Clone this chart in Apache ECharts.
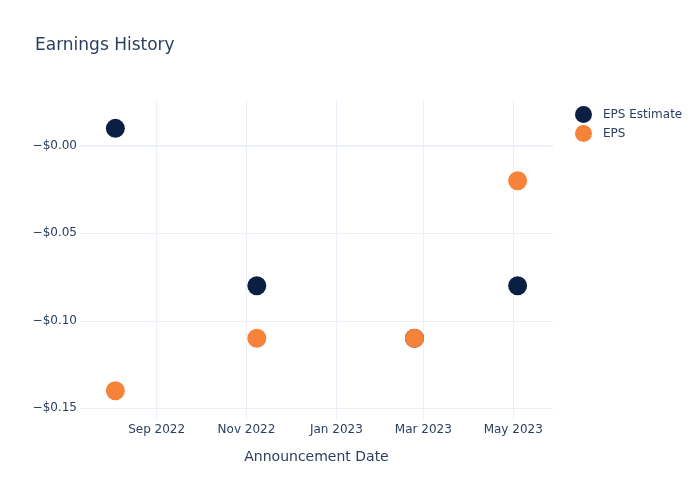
<!DOCTYPE html>
<html><head><meta charset="utf-8">
<script src="https://cdn.jsdelivr.net/npm/echarts@6/dist/echarts.min.js"></script>
<style>html,body{margin:0;padding:0;background:#fff}#c{width:700px;height:500px}</style>
</head><body><div id="c"></div>
<script>
const dates = ['2022-08-04', '2022-11-08', '2023-02-23', '2023-05-04'];
const epsEstimate = [0.01, -0.08, -0.11, -0.08];
const eps = [-0.14, -0.11, -0.11, -0.02];
const yTicks = [-0.15, -0.10, -0.05, 0];
const xTicks = ['2022-09-01', '2022-11-01', '2023-01-01', '2023-03-01', '2023-05-01'];
const months = ['Jan','Feb','Mar','Apr','May','Jun','Jul','Aug','Sep','Oct','Nov','Dec'];

const t = s => { const [y,m,d] = s.split('-').map(Number); return Date.UTC(y, m-1, d); };
const font = '"DejaVu Sans", Verdana, sans-serif';
const txt = '#2a3f5f';

const chart = echarts.init(document.getElementById('c'), null, {renderer: 'canvas'});
chart.setOption({
  animation: false,
  backgroundColor: '#fff',
  title: {text: 'Earnings History', left: 30, top: 32, textStyle: {fontFamily: font, fontSize: 17, fontWeight: 'normal', color: txt}},
  legend: {
    orient: 'vertical', left: 570, top: 101, itemWidth: 17, itemHeight: 17, itemGap: 2, icon: 'circle',
    textStyle: {fontFamily: font, fontSize: 12, color: txt, padding: [0, 0, 0, 6]}
  },
  grid: {left: 80, right: 147, top: 100, bottom: 80, containLabel: false},
  xAxis: {
    type: 'value', min: t('2022-07-11'), max: t('2023-05-28'), scale: true,
    name: 'Announcement Date', nameLocation: 'middle', nameGap: 30,
    nameTextStyle: {fontFamily: font, fontSize: 14, color: txt},
    axisLine: {show: false}, axisTick: {show: false, customValues: xTicks.map(t)},
    axisLabel: {customValues: xTicks.map(t), fontFamily: font, fontSize: 12, color: txt, margin: 4,
      formatter: v => { const d = new Date(v); return months[d.getUTCMonth()] + ' ' + d.getUTCFullYear(); }},
    splitLine: {show: true, lineStyle: {color: '#EBF0F8', width: 1}}
  },
  yAxis: {
    type: 'value', min: -0.1567, max: 0.0262,
    axisLine: {show: false}, axisTick: {show: false, customValues: yTicks},
    axisLabel: {customValues: yTicks, fontFamily: font, fontSize: 12, color: txt, margin: 3,
      formatter: v => (v <= 0.000001 ? '\u2212$' : '$') + Math.abs(v).toFixed(2)},
    splitLine: {show: true, lineStyle: {color: '#EBF0F8', width: 1}}
  },
  series: [
    {name: 'EPS Estimate', type: 'scatter', symbolSize: 19, itemStyle: {color: '#0b1f42', opacity: 1},
     data: dates.map((d, i) => [t(d), epsEstimate[i]]),
     markLine: {silent: true, symbol: 'none', label: {show: false}, lineStyle: {color: '#EBF0F8', width: 2, type: 'solid'}, data: [{yAxis: 0}], z: 0}},
    {name: 'EPS', type: 'scatter', symbolSize: 19, itemStyle: {color: '#f7823a', opacity: 1},
     data: dates.map((d, i) => [t(d), eps[i]])}
  ]
});
</script></body></html>
